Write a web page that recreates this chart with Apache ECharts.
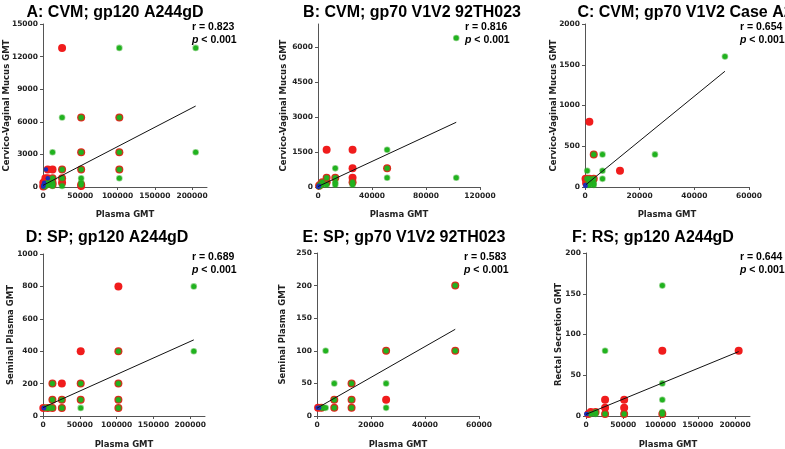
<!DOCTYPE html>
<html><head><meta charset="utf-8">
<script src="https://cdn.jsdelivr.net/npm/echarts@6/dist/echarts.min.js"></script>
<style>html,body{margin:0;padding:0;background:#fff}#c{width:785px;height:449px}</style>
</head><body><div id="c"></div>
<script>
// ---------- text ----------
const titles = ['A: CVM; gp120 A244gD','B: CVM; gp70 V1V2 92TH023','C: CVM; gp70 V1V2 Case A2','D: SP; gp120 A244gD','E: SP; gp70 V1V2 92TH023','F: RS; gp120 A244gD'];
const rValues = ['0.823','0.816','0.654','0.689','0.583','0.644'];
const pValueText = '< 0.001';
const yNames = ['Cervico-Vaginal Mucus GMT','Cervico-Vaginal Mucus GMT','Cervico-Vaginal Mucus GMT','Seminal Plasma GMT','Seminal Plasma GMT','Rectal Secretion GMT'];
const xName = 'Plasma GMT';

// ---------- tick labels ----------
const xTicksA = [0,50000,100000,150000,200000];
const yTicksA = [0,3000,6000,9000,12000,15000];
const xTicksB = [0,40000,80000,120000];
const yTicksB = [0,1500,3000,4500,6000];
const xTicksC = [0,20000,40000,60000];
const yTicksC = [0,500,1000,1500,2000];
const xTicksD = [0,50000,100000,150000,200000];
const yTicksD = [0,200,400,600,800,1000];
const xTicksE = [0,20000,40000,60000];
const yTicksE = [0,50,100,150,200,250];
const xTicksF = [0,50000,100000,150000,200000];
const yTicksF = [0,50,100,150,200];

// ---------- data [plasma GMT, mucosal GMT] ----------
const aRed = [[25600,12800],[51200,6400],[102400,6400],[51200,3200],[102400,3200],[25600,1600],[51200,1600],[102400,1600],[6400,1600],[12800,1600],[25600,800],[25600,400],[51200,200],[51200,100],[3200,800],[6400,800],[12800,800],[12800,400],[1600,400],[3200,200],[6400,400],[800,100],[1600,200],[400,50],[400,400],[12800,200]];
const aGreen = [[102400,12800],[204800,12800],[25600,6400],[51200,6400],[102400,6400],[204800,3200],[12800,3200],[51200,3200],[102400,3200],[25600,1600],[51200,1600],[102400,1600],[25600,800],[51200,800],[102400,800],[51200,400],[51200,200],[25600,100],[12800,800],[12800,400],[12800,200],[6400,400],[6400,200],[3200,100],[1600,50],[12800,100]];
const aBlue = [[4000,1600],[6400,800],[1600,400],[800,200],[400,100],[200,50]];
const aFit = [[0,150],[204800,7450]];

const bRed = [[6400,1600],[25600,1600],[25600,800],[51200,800],[25600,400],[6400,400],[12800,400],[3200,200],[1600,100],[6400,200],[800,50],[25600,200]];
const bGreen = [[102400,6400],[51200,1600],[51200,800],[12800,800],[51200,400],[102400,400],[6400,400],[12800,400],[12800,200],[12800,100],[25600,200],[25600,100],[3200,200],[3200,100],[1600,100],[6400,100],[1600,50],[800,25]];
const bBlue = [[800,50],[400,25],[200,12]];
const bFit = [[0,20],[102400,2780]];

const cRed = [[1600,800],[3200,400],[12800,200],[800,100],[1600,100],[200,100],[3200,100],[400,50]];
const cGreen = [[51200,1600],[3200,400],[6400,400],[25600,400],[800,200],[6400,200],[6400,100],[800,100],[1600,100],[3200,100],[1600,50],[3200,50],[3200,25],[800,25],[1600,25]];
const cBlue = [[100,25],[200,12]];
const cFit = [[400,30],[51200,1420]];

const dRed = [[102400,800],[51200,400],[102400,400],[25600,200],[12800,200],[51200,200],[102400,200],[12800,100],[25600,100],[51200,100],[102400,100],[12800,50],[25600,50],[102400,50],[400,50],[6400,50]];
const dGreen = [[204800,800],[102400,400],[204800,400],[12800,200],[51200,200],[102400,200],[12800,100],[25600,100],[51200,100],[102400,100],[12800,50],[25600,50],[51200,50],[102400,50],[3200,50],[6400,50],[9600,50]];
const dBlue = [[1600,50],[800,50]];
const dFit = [[0,52],[204800,470]];

const eRed = [[51200,200],[51200,100],[25600,100],[12800,50],[6400,25],[12800,25],[25600,25],[6400,12.5],[12800,12.5],[400,12.5],[1600,12.5]];
const eGreen = [[51200,200],[51200,100],[25600,100],[3200,100],[6400,50],[12800,50],[25600,50],[6400,25],[12800,25],[6400,12.5],[12800,12.5],[25600,12.5],[1600,12.5],[2400,12.5],[3200,12.5]];
const eBlue = [[200,12.5],[800,12.5]];
const eFit = [[0,12],[51200,133]];

const fRed = [[102400,80],[204800,80],[25600,20],[51200,20],[25600,10],[51200,10],[25600,2.5],[51200,2.5],[102400,2.5],[6400,5],[3200,2.5],[12800,5]];
const fGreen = [[102400,160],[25600,80],[102400,40],[102400,20],[102400,5],[102400,2.5],[25600,2.5],[51200,2.5],[12800,2.5],[6400,2.5],[12800,5]];
const fBlue = [[800,2.5],[400,2.5]];
const fFit = [[0,2],[204800,79]];

// ---------- assembly ----------
const redSets = [aRed,bRed,cRed,dRed,eRed,fRed];
const greenSets = [aGreen,bGreen,cGreen,dGreen,eGreen,fGreen];
const blueSets = [aBlue,bBlue,cBlue,dBlue,eBlue,fBlue];
const fitSets = [aFit,bFit,cFit,dFit,eFit,fFit];
const xTickSets = [xTicksA,xTicksB,xTicksC,xTicksD,xTicksE,xTicksF];
const yTickSets = [yTicksA,yTicksB,yTicksC,yTicksD,yTicksE,yTicksF];

const layout = [
  {grid:{left:43,top:24,width:164,height:163}, xMax:220000, yMax:15000, yGap:32, xGap:23, title:[115,13], stat:[192,27]},
  {grid:{left:318,top:24,width:162,height:163}, xMax:120000, yMax:7000, yGap:29.5, xGap:23, title:[412,13], stat:[465,27.5]},
  {grid:{left:585,top:24,width:164,height:163}, xMax:60000, yMax:2000, yGap:27, xGap:23, title:[685,13], stat:[740,27.5]},
  {grid:{left:43,top:254,width:162,height:162}, xMax:220000, yMax:1000, yGap:27.5, xGap:24, title:[107,238], stat:[192,257]},
  {grid:{left:317,top:253,width:162,height:163}, xMax:60000, yMax:250, yGap:29.5, xGap:24, title:[404,238], stat:[464,257]},
  {grid:{left:586,top:253,width:164,height:163}, xMax:220000, yMax:200, yGap:23, xGap:24, title:[653,238], stat:[740,257]}
];

const tickFont = {fontFamily:'DejaVu Sans', fontWeight:'bold', fontSize:7.5, color:'#222'};
const nameFont = {fontFamily:'DejaVu Sans', fontWeight:'bold', fontSize:8.5, color:'#222'};
const axisLine = {show:true, lineStyle:{color:'#555', width:1}};
const plain = v => String(v);

const grids=[], xAxes=[], yAxes=[], series=[], graphics=[];
layout.forEach((L,i)=>{
  grids.push(Object.assign({outerBoundsMode:'none', containLabel:false}, L.grid));
  xAxes.push({type:'value', gridIndex:i, min:0, max:L.xMax, splitLine:{show:false},
    axisLine:axisLine, axisTick:{show:true, length:3, lineStyle:{color:'#555'}, customValues:xTickSets[i]},
    axisLabel:Object.assign({margin:5, customValues:xTickSets[i], formatter:plain}, tickFont),
    name:xName, nameLocation:'middle', nameGap:L.xGap, nameMoveOverlap:false, nameTextStyle:nameFont});
  yAxes.push({type:'value', gridIndex:i, min:0, max:L.yMax, splitLine:{show:false},
    axisLine:axisLine, axisTick:{show:true, length:3, lineStyle:{color:'#555'}, customValues:yTickSets[i]},
    axisLabel:Object.assign({margin:5, customValues:yTickSets[i], formatter:plain}, tickFont),
    name:yNames[i], nameLocation:'middle', nameGap:L.yGap, nameMoveOverlap:false, nameTextStyle:nameFont});
  series.push({type:'scatter', xAxisIndex:i, yAxisIndex:i, data:redSets[i], symbolSize:8, z:2,
    itemStyle:{color:'#f01c1c', opacity:1}, silent:true});
  series.push({type:'scatter', xAxisIndex:i, yAxisIndex:i, data:greenSets[i], symbolSize:5, z:3,
    itemStyle:{color:'#1fb51f', borderColor:'rgba(40,170,30,0.5)', borderWidth:1.6, opacity:1}, silent:true});
  series.push({type:'scatter', xAxisIndex:i, yAxisIndex:i, data:blueSets[i], symbolSize:4.5, z:4,
    itemStyle:{color:'#1c2fb8', opacity:1}, silent:true});
  series.push({type:'line', xAxisIndex:i, yAxisIndex:i, data:fitSets[i], symbol:'none', z:5,
    lineStyle:{color:'#111', width:1}, silent:true});
  graphics.push({type:'text', x:L.title[0], y:L.title[1], silent:true,
    style:{text:titles[i], fontFamily:'"Liberation Sans", Arial', fontWeight:'bold', fontSize:16, fill:'#000',
      textAlign:'center', textVerticalAlign:'middle', align:'center', verticalAlign:'middle'}});
  graphics.push({type:'text', x:L.stat[0], y:L.stat[1], silent:true,
    style:{text:'r = '+rValues[i], fontFamily:'"Liberation Sans", Arial', fontWeight:'bold', fontSize:10.5, fill:'#000',
      textAlign:'left', textVerticalAlign:'middle', align:'left', verticalAlign:'middle'}});
  graphics.push({type:'text', x:L.stat[0], y:L.stat[1]+13, silent:true,
    style:{text:'{i|p} '+pValueText, fontFamily:'"Liberation Sans", Arial', fontWeight:'bold', fontSize:10.5, fill:'#000',
      textAlign:'left', textVerticalAlign:'middle', align:'left', verticalAlign:'middle',
      rich:{i:{fontStyle:'italic', fontFamily:'"Liberation Sans", Arial', fontWeight:'bold', fontSize:10.5, fill:'#000'}}}});
});

const chart = echarts.init(document.getElementById('c'), null, {renderer:'canvas'});
chart.setOption({animation:false, backgroundColor:'#fff', grid:grids, xAxis:xAxes, yAxis:yAxes, series:series, graphic:graphics, tooltip:{show:false}});
</script></body></html>
